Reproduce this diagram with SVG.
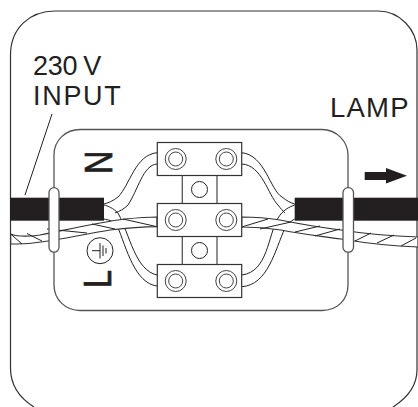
<svg xmlns="http://www.w3.org/2000/svg" width="418" height="407" viewBox="0 0 418 407">
<style>
.l{fill:none;stroke:#222;stroke-width:1}
.f{fill:none;stroke:#333;stroke-width:1.2}
.b{fill:#fff;stroke:#333;stroke-width:1.2}
.s{fill:#fff;stroke:#444;stroke-width:1}
.g{fill:#fff;stroke:#555;stroke-width:1.3}
.k{fill:#231f20}
.t{font-family:"Liberation Sans",Arial,sans-serif;fill:#231f20}
.m{font-family:"Liberation Sans",sans-serif;fill:#231f20;stroke:#231f20;stroke-width:.7}
</style>
<g id="frame">
<path class="f" d="M34 407C18 397 10.500 385 10.500 368V55C10.500 28 30 11 55 11H378C400 11 417 30 417 50V370C417 385 407 398 393 407"/>
</g>
<g id="box">
<path class="g" d="M54 155C54 140 66 129.500 80 129.500H322C337 129.500 348 142 348 155V285C348 300 337 310.500 322 310.500H80C66 310.500 54 300 54 285Z" style="fill:none"/>
</g>
<g id="connectors">
<path class="l" d="M52 114L25 195"/>
<path class="l" d="M157 152.700C135 155 130 185 118 197C113 201 108 203 104 204"/>
<path class="l" d="M157 164C143 165 138 190 128 205C124 209 120 211 115 213"/>
<path class="l" d="M157 275C135 270 130 235 118 213C113 208 108 206 104 205"/>
<path class="l" d="M157 286C135 283 127 250 117 225C112 220 108 220 104 219"/>
<path class="l" d="M241.700 152.700C265 155 270 190 282 197C287 201 291 203 294.700 204"/>
<path class="l" d="M241.700 164C262 165 268 195 278 205C281 209 283 211 285 213"/>
<path class="l" d="M241.700 275C268 272 268 235 278 218C283 210 289 207 294.700 205"/>
<path class="l" d="M241.700 286.700C268 285 275 250 285 228C288 224 291 221 294.700 219"/>
</g>
<g id="earth-wire">
<path class="b" d="M10.700 234C18 237 26 237 40 235C70 229 100 222 125 219C135 218 146 217 157 217V226.700C140 227 128 228 110 230C85 234 55 241 33 243C25 244 17 244 10.700 244Z"/>
<path class="l" d="M10.700 234L22 244M27 233.500L42 241M47 229L87 233M92 224L115 229M123 219L157 226.700"/>
<path class="b" d="M241.700 217C255 217 268 218 280 220C300 224 325 228 341 230C360 233 385 236 418 237V247C390 246 365 243 341 239C320 236 300 234 281 230C268 228 255 227 241.700 227Z"/>
<path class="l" d="M241.700 227L268 219M260 229L291 222M295 232L320 226M315 236L340 229M355 241L371 233M377 243L394 235M401 246L416 238"/>
</g>
<g id="cable-in"><rect class="k" x="10" y="197.700" width="94" height="23"/></g>
<g id="cable-out"><rect class="k" x="294.700" y="197.700" width="123.300" height="23"/></g>
<g id="grommet-left"><rect class="g" x="49" y="187.700" width="10" height="64.500" rx="5"/></g>
<g id="grommet-right"><rect class="g" x="343" y="187.700" width="10.500" height="64.500" rx="5"/></g>
<g id="bridge-1"><rect class="g" x="182.300" y="175" width="34.700" height="29"/><circle class="l" cx="199.500" cy="189.500" r="8"/></g>
<g id="bridge-2"><rect class="g" x="182.300" y="236" width="34.700" height="29"/><circle class="l" cx="199.500" cy="250.500" r="8"/></g>
<g id="terminal-1"><rect class="b" x="157.300" y="142.500" width="84.400" height="33"/><circle class="s" cx="175.700" cy="159" r="10.500"/><circle class="s" cx="175.700" cy="159" r="7"/><circle class="s" cx="226.300" cy="159" r="10.500"/><circle class="s" cx="226.300" cy="159" r="7"/></g>
<g id="terminal-2"><rect class="b" x="157.300" y="203.500" width="84.400" height="33"/><circle class="s" cx="175.700" cy="220" r="10.500"/><circle class="s" cx="175.700" cy="220" r="7"/><circle class="s" cx="226.300" cy="220" r="10.500"/><circle class="s" cx="226.300" cy="220" r="7"/></g>
<g id="terminal-3"><rect class="b" x="157.300" y="264.500" width="84.400" height="33"/><circle class="s" cx="175.700" cy="281" r="10.500"/><circle class="s" cx="175.700" cy="281" r="7"/><circle class="s" cx="226.300" cy="281" r="10.500"/><circle class="s" cx="226.300" cy="281" r="7"/></g>
<g id="earth-symbol">
<circle class="l" cx="100" cy="250.700" r="13"/>
<path class="l" d="M92 250.700H100M100 243V258.500M103 245.500V256M106 248V253.500"/>
</g>
<g id="arrow"><path class="k" d="M364.700 172H386V168L407 175.700L386 183.500V180H364.700Z"/></g>
<g id="labels">
<text class="t" x="33" y="75" font-size="27" letter-spacing="-.3">230<tspan dx="-1"> V</tspan></text>
<text class="t" x="33" y="105" font-size="27" letter-spacing="1.700">INPUT</text>
<text class="t" x="330" y="117" font-size="27.500" letter-spacing="1.200">LAMP</text>
<text class="m" transform="translate(111.500,174) rotate(-90) scale(.85,1)" font-size="38">N</text>
<text class="m" transform="translate(111,270) rotate(-90) scale(.85,1)" font-size="38" text-anchor="end">L</text>
</g>
</svg>
